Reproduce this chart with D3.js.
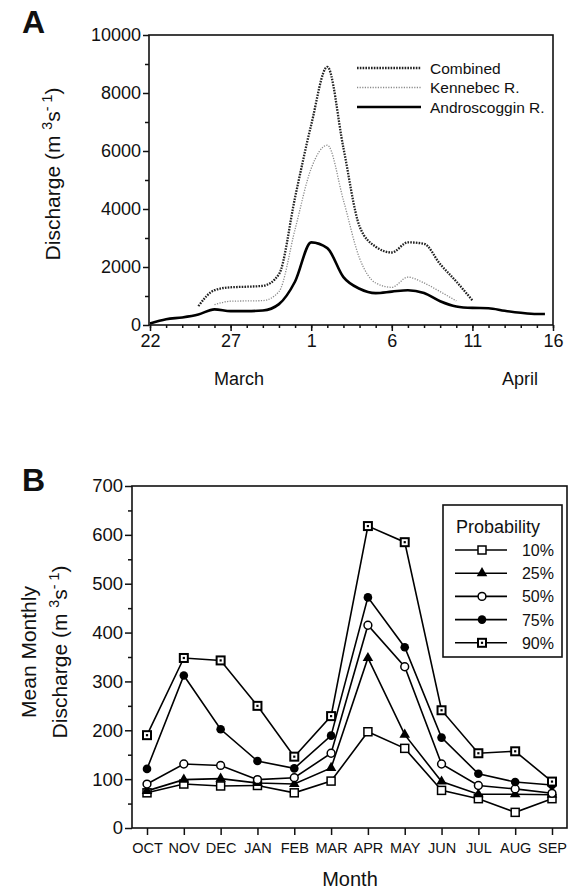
<!DOCTYPE html>
<html>
<head>
<meta charset="utf-8">
<script src="https://cdn.jsdelivr.net/npm/d3@7/dist/d3.min.js"></script>
<style>
  body { margin: 0; background: #fff; }
  svg text { font-family: "Liberation Sans", Arial, Helvetica, sans-serif; fill: #111; }
</style>
</head>
<body>
<svg id="chart" width="569" height="893"></svg>
<script>
// ---- Panel A: daily discharge, days counted from 22 March ----
const androDays = [0, 1, 2, 3, 4, 5, 6, 7, 8, 9, 10, 11, 12, 13, 14, 15, 16, 17, 18, 19, 20, 21, 22, 23, 24, 24.5];
const androQ    = [50, 200, 260, 360, 540, 480, 480, 500, 720, 1500, 2850, 2650, 1650, 1250, 1100, 1150, 1200, 1100, 820, 640, 590, 580, 490, 420, 380, 380];

const kennDays = [4, 5, 6, 7, 8, 9, 10, 11, 12, 13, 14, 15, 16, 17, 18, 19];
const kennQ    = [700, 820, 830, 840, 1150, 3300, 5400, 6200, 4300, 2300, 1450, 1300, 1650, 1450, 1150, 830];

const combDays = [3, 4, 5, 6, 7, 8, 9, 10, 11, 12, 13, 14, 15, 16, 17, 18, 19, 20];
const combQ    = [650, 1200, 1300, 1320, 1350, 1750, 4400, 6900, 8900, 6100, 3400, 2700, 2500, 2850, 2800, 2100, 1500, 850];

const dayTicks = [0, 5, 10, 15, 20, 25];
const dayTickLabels = ["22", "27", "1", "6", "11", "16"];

// ---- Panel B: mean monthly discharge by exceedance probability ----
const months = ["OCT", "NOV", "DEC", "JAN", "FEB", "MAR", "APR", "MAY", "JUN", "JUL", "AUG", "SEP"];
const p10 = [72, 90, 86, 87, 72, 96, 197, 163, 77, 60, 32, 60];
const p25 = [76, 99, 101, 92, 90, 123, 348, 191, 95, 69, 69, 68];
const p50 = [90, 131, 128, 99, 103, 153, 415, 330, 131, 87, 80, 71];
const p75 = [121, 312, 202, 137, 122, 189, 472, 370, 185, 111, 94, 88];
const p90 = [190, 348, 343, 250, 146, 229, 618, 585, 241, 153, 157, 95];
const probLabels = ["10%", "25%", "50%", "75%", "90%"];

const svg = d3.select("#chart");
svg.append("rect").attr("width", 569).attr("height", 893).attr("fill", "#fff");

// helper: y label with superscripts
function dischargeLabel(g, x, y, size) {
    const t = g.append("text")
        .attr("transform", `translate(${x},${y}) rotate(-90)`)
        .attr("text-anchor", "middle")
        .style("font-size", size + "px");
    t.append("tspan").text("Discharge (m ");
    t.append("tspan").attr("dy", -size * 0.38).style("font-size", (size * 0.68) + "px").text("3");
    t.append("tspan").attr("dy", size * 0.38).text("s");
    t.append("tspan").attr("dy", -size * 0.38).style("font-size", (size * 0.68) + "px").text("- 1");
    t.append("tspan").attr("dy", size * 0.38).text(")");
    return t;
}

// ================= Panel A =================
const gA = svg.append("g");
const xA = d3.scaleLinear().domain([0, 25]).range([150, 553]);
const yA = d3.scaleLinear().domain([0, 10000]).range([325, 35]);

gA.append("text").attr("x", 22).attr("y", 33)
    .style("font-size", "32px").style("font-weight", "bold").text("A");

// frame
gA.append("rect").attr("x", xA(0) - 1).attr("y", yA(10000))
    .attr("width", xA(25) - xA(0) + 1).attr("height", yA(0) - yA(10000))
    .attr("fill", "none").attr("stroke", "#111").attr("stroke-width", 1.6);

// y axis
const yAxisA = gA.append("g").attr("transform", `translate(${xA(0) - 1},0)`)
    .call(d3.axisLeft(yA).tickValues(d3.range(0, 10001, 2000)).tickFormat(d3.format("d")).tickSize(6).tickPadding(2));
const yMinorA = gA.append("g").attr("transform", `translate(${xA(0) - 1},0)`)
    .call(d3.axisLeft(yA).tickValues(d3.range(1000, 10000, 2000)).tickFormat("").tickSize(4));

// x axis
const xAxisA = gA.append("g").attr("transform", `translate(0,${yA(0)})`)
    .call(d3.axisBottom(xA).tickValues(dayTicks).tickFormat((d, i) => dayTickLabels[i]).tickSize(6).tickPadding(3));
const xMinorA = gA.append("g").attr("transform", `translate(0,${yA(0)})`)
    .call(d3.axisBottom(xA).tickValues(d3.range(0, 26)).tickFormat("").tickSize(3));

[yAxisA, yMinorA, xAxisA, xMinorA].forEach(a => {
    a.select(".domain").remove();
    a.selectAll("line").attr("stroke", "#111").attr("stroke-width", 1.5);
    a.selectAll("text").style("font-size", "18px").attr("fill", "#111");
});

gA.append("text").attr("x", 214).attr("y", 385).style("font-size", "18px").text("March");
gA.append("text").attr("x", 502).attr("y", 385).style("font-size", "18px").text("April");

dischargeLabel(gA, 60, 174, 21);

const lineA = d3.line().x(d => xA(d[0])).y(d => yA(d[1])).curve(d3.curveMonotoneX);

const seriesA = [
    { name: "Combined", pts: d3.zip(combDays, combQ), stroke: "#222", width: 2.3, dash: "1.6,1.2" },
    { name: "Kennebec R.", pts: d3.zip(kennDays, kennQ), stroke: "#8a8a8a", width: 1.3, dash: "1.2,1.4" },
    { name: "Androscoggin R.", pts: d3.zip(androDays, androQ), stroke: "#000", width: 2.6, dash: null }
];

seriesA.forEach((s, i) => {
    gA.append("path").attr("d", lineA(s.pts))
        .attr("fill", "none").attr("stroke", s.stroke).attr("stroke-width", s.width)
        .attr("stroke-dasharray", s.dash);
    const ly = 68 + i * 19.5;
    gA.append("line").attr("x1", 357).attr("x2", 421).attr("y1", ly).attr("y2", ly)
        .attr("stroke", s.stroke).attr("stroke-width", s.width).attr("stroke-dasharray", s.dash);
    gA.append("text").attr("x", 430).attr("y", ly + 5.5).style("font-size", "15.5px").text(s.name);
});

// ================= Panel B =================
const gB = svg.append("g");
const xB = d3.scalePoint().domain(months).range([147, 552]);
const yB = d3.scaleLinear().domain([0, 700]).range([828, 486]);

gB.append("text").attr("x", 22).attr("y", 491)
    .style("font-size", "32px").style("font-weight", "bold").text("B");

gB.append("rect").attr("x", 132).attr("y", yB(700))
    .attr("width", 567 - 132).attr("height", yB(0) - yB(700))
    .attr("fill", "none").attr("stroke", "#111").attr("stroke-width", 1.6);

const yAxisB = gB.append("g").attr("transform", "translate(132,0)")
    .call(d3.axisLeft(yB).tickValues(d3.range(0, 701, 100)).tickSize(7).tickPadding(2));
const yMinorB = gB.append("g").attr("transform", "translate(132,0)")
    .call(d3.axisLeft(yB).tickValues(d3.range(50, 700, 100)).tickFormat("").tickSize(4));
const xAxisB = gB.append("g").attr("transform", `translate(0,${yB(0)})`)
    .call(d3.axisBottom(xB).tickSize(7).tickPadding(8));

[yAxisB, yMinorB].forEach(a => {
    a.select(".domain").remove();
    a.selectAll("line").attr("stroke", "#111").attr("stroke-width", 1.5);
    a.selectAll("text").style("font-size", "18.5px").attr("fill", "#111");
});
xAxisB.select(".domain").remove();
xAxisB.selectAll("line").attr("stroke", "#111").attr("stroke-width", 1.5);
xAxisB.selectAll("text").style("font-size", "14.5px").attr("fill", "#111");

gB.append("text").attr("x", 350).attr("y", 886).attr("text-anchor", "middle")
    .style("font-size", "20px").text("Month");

gB.append("text").attr("transform", "translate(36,652) rotate(-90)")
    .attr("text-anchor", "middle").style("font-size", "21px").text("Mean Monthly");
dischargeLabel(gB, 67, 652, 21);

// marker drawing
function marker(g, type, x, y) {
    if (type === "open-square") {
        g.append("rect").attr("x", x - 4).attr("y", y - 4).attr("width", 8).attr("height", 8)
            .attr("fill", "#fff").attr("stroke", "#000").attr("stroke-width", 1.5);
    } else if (type === "triangle") {
        g.append("path").attr("d", d3.symbol(d3.symbolTriangle, 48)())
            .attr("transform", `translate(${x},${y})`).attr("fill", "#000");
    } else if (type === "open-circle") {
        g.append("circle").attr("cx", x).attr("cy", y).attr("r", 3.9)
            .attr("fill", "#fff").attr("stroke", "#000").attr("stroke-width", 1.5);
    } else if (type === "dot") {
        g.append("circle").attr("cx", x).attr("cy", y).attr("r", 4.3).attr("fill", "#000");
    } else {
        g.append("rect").attr("x", x - 4).attr("y", y - 4).attr("width", 8).attr("height", 8)
            .attr("fill", "#fff").attr("stroke", "#000").attr("stroke-width", 2);
        g.append("rect").attr("x", x - 1.1).attr("y", y - 1.1).attr("width", 2.2).attr("height", 2.2)
            .attr("fill", "#000");
    }
}

const seriesB = [
    { vals: p10, type: "open-square" },
    { vals: p25, type: "triangle" },
    { vals: p50, type: "open-circle" },
    { vals: p75, type: "dot" },
    { vals: p90, type: "dotted-square" }
];

const lineB = d3.line().x((d, i) => xB(months[i])).y(d => yB(d));
seriesB.forEach(s => {
    gB.append("path").attr("d", lineB(s.vals)).attr("fill", "none")
        .attr("stroke", "#000").attr("stroke-width", 1.6);
});
seriesB.forEach(s => {
    s.vals.forEach((v, i) => marker(gB, s.type, xB(months[i]), yB(v)));
});

// legend B
gB.append("rect").attr("x", 443).attr("y", 505).attr("width", 119).attr("height", 152)
    .attr("fill", "#fff").attr("stroke", "#111").attr("stroke-width", 1.6);
gB.append("text").attr("x", 456).attr("y", 533).style("font-size", "18px").text("Probability");
seriesB.forEach((s, i) => {
    const ly = 550 + i * 23.2;
    gB.append("line").attr("x1", 455).attr("x2", 507).attr("y1", ly).attr("y2", ly)
        .attr("stroke", "#000").attr("stroke-width", 1.6);
    marker(gB, s.type, 482, ly);
    gB.append("text").attr("x", 554).attr("y", ly + 6).attr("text-anchor", "end")
        .style("font-size", "16px").text(probLabels[i]);
});
</script>
</body>
</html>
